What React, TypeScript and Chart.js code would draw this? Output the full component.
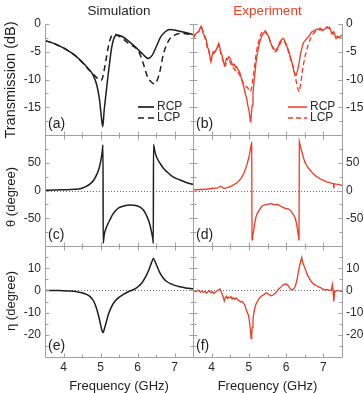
import { useEffect, useRef } from "react";
import { Chart, registerables } from "chart.js";

Chart.register(...registerables);

// ---------- data ----------
const freqTicks = [4, 5, 6, 7];
const transTicks = [0, -5, -10, -15];
const thetaTicks = [50, 0, -50];
const etaTicks = [10, 0, -10, -20];

// Simulated transmission (dB)
const simRcpFreq = [3.5, 3.7, 3.9, 4.1, 4.3, 4.5, 4.65, 4.8, 4.9, 4.97, 5.02, 5.06, 5.1, 5.15, 5.2, 5.25, 5.3, 5.36, 5.45, 5.6, 5.8, 6.0, 6.15, 6.29, 6.4, 6.5, 6.62, 6.75, 6.88, 7.0, 7.2, 7.4, 7.5];
const simRcpDb = [-3.0, -3.4, -4.0, -4.7, -5.6, -6.8, -7.9, -9.2, -11.0, -13.5, -16.5, -18.5, -15.5, -12.5, -9.5, -6.8, -4.3, -2.6, -2.0, -2.3, -3.3, -4.5, -5.5, -6.2, -5.6, -4.2, -2.4, -1.4, -1.0, -1.1, -1.4, -1.7, -1.9];
const simLcpFreq = [3.5, 3.7, 3.9, 4.1, 4.3, 4.5, 4.65, 4.8, 4.9, 4.97, 5.03, 5.08, 5.14, 5.2, 5.26, 5.32, 5.4, 5.5, 5.65, 5.8, 6.02, 6.15, 6.27, 6.38, 6.46, 6.54, 6.61, 6.68, 6.76, 6.88, 7.0, 7.15, 7.35, 7.5];
const simLcpDb = [-3.0, -3.4, -4.0, -4.7, -5.6, -6.9, -8.0, -9.0, -9.7, -10.1, -10.1, -9.0, -6.8, -4.5, -2.8, -2.0, -1.9, -2.2, -2.9, -3.7, -4.8, -7.0, -9.5, -10.5, -10.8, -10.0, -8.4, -6.0, -4.2, -2.6, -2.0, -1.7, -1.8, -2.1];

// Simulated polarization rotation θ (degree)
const simThetaFreq = [3.5, 3.8, 4.1, 4.3, 4.45, 4.6, 4.72, 4.82, 4.9, 4.97, 5.02, 5.05, 5.068, 5.072, 5.1, 5.15, 5.2, 5.26, 5.33, 5.4, 5.5, 5.62, 5.8, 5.95, 6.07, 6.17, 6.25, 6.32, 6.38, 6.42, 6.428, 6.432, 6.47, 6.53, 6.61, 6.7, 6.79, 6.95, 7.15, 7.3, 7.5];
const simTheta = [0.5, 1, 1.5, 2.2, 3, 7, 12, 19, 29, 42, 58, 72, 82, -95, -80, -68, -60, -52, -43, -37, -31, -28, -26, -27, -30, -36, -46, -58, -75, -90, -95, 83, 70, 58, 49, 40, 34, 25, 19, 15, 11];

// Simulated ellipticity η (degree)
const simEtaFreq = [3.5, 3.9, 4.2, 4.45, 4.6, 4.72, 4.82, 4.9, 4.97, 5.03, 5.07, 5.11, 5.16, 5.21, 5.28, 5.35, 5.45, 5.62, 5.75, 5.89, 6.0, 6.1, 6.2, 6.3, 6.38, 6.43, 6.48, 6.55, 6.61, 6.7, 6.79, 6.95, 7.15, 7.3, 7.5];
const simEta = [0, -0.1, -0.3, -0.9, -1.6, -2.8, -5, -8.5, -13, -17.5, -19, -17, -14, -11, -8, -5.8, -3.8, -1.8, -0.6, 0.3, 1.5, 3, 5.5, 9, 12.5, 14.4, 12.8, 10, 7.8, 5.5, 4, 2.6, 1.6, 1.1, 0.7];

// Measured transmission (dB)
const expRcpFreq = [3.5, 3.54, 3.58, 3.62, 3.66, 3.7, 3.72, 3.75, 3.78, 3.82, 3.86, 3.89, 3.92, 3.95, 3.98, 4.01, 4.04, 4.07, 4.1, 4.13, 4.16, 4.19, 4.22, 4.25, 4.28, 4.31, 4.34, 4.37, 4.4, 4.43, 4.46, 4.49, 4.52, 4.55, 4.58, 4.61, 4.64, 4.67, 4.7, 4.73, 4.76, 4.79, 4.82, 4.85, 4.88, 4.91, 4.94, 4.97, 5.0, 5.02, 5.04, 5.055, 5.07, 5.09, 5.11, 5.13, 5.16, 5.19, 5.22, 5.25, 5.28, 5.31, 5.34, 5.37, 5.4, 5.43, 5.46, 5.49, 5.52, 5.55, 5.58, 5.61, 5.64, 5.67, 5.7, 5.73, 5.76, 5.79, 5.82, 5.85, 5.88, 5.91, 5.94, 5.97, 6.0, 6.03, 6.06, 6.09, 6.12, 6.15, 6.18, 6.21, 6.24, 6.27, 6.3, 6.33, 6.36, 6.39, 6.42, 6.45, 6.48, 6.51, 6.54, 6.57, 6.6, 6.63, 6.66, 6.69, 6.72, 6.75, 6.78, 6.81, 6.84, 6.87, 6.9, 6.93, 6.96, 6.99, 7.02, 7.05, 7.08, 7.1, 7.13, 7.16, 7.19, 7.22, 7.25, 7.28, 7.31, 7.34, 7.37, 7.4, 7.43, 7.46, 7.5];
const expRcpDb = [-2.6, -2.0, -1.7, -1.5, -1.3, -0.6, -0.4, -1.0, -1.8, -2.2, -3.0, -4.2, -4.6, -5.7, -6.8, -5.8, -5.0, -5.2, -4.8, -4.6, -4.0, -3.5, -4.2, -5.3, -5.6, -6.6, -7.4, -6.9, -6.2, -6.4, -5.9, -6.1, -6.6, -7.2, -7.5, -7.3, -7.8, -7.7, -8.1, -8.4, -8.8, -9.6, -10.3, -11.0, -11.8, -12.7, -13.4, -14.6, -15.5, -16.4, -17.6, -17.2, -16.0, -14.6, -12.5, -11.0, -9.0, -7.0, -5.6, -4.6, -3.5, -2.9, -2.3, -1.9, -1.6, -1.4, -1.6, -1.9, -2.1, -2.6, -3.3, -3.8, -4.1, -4.5, -4.7, -4.6, -4.3, -4.1, -3.4, -3.1, -2.8, -2.6, -2.7, -3.2, -3.6, -4.2, -4.7, -5.4, -6.0, -6.8, -7.6, -8.6, -9.0, -9.2, -8.5, -7.7, -6.5, -5.3, -4.4, -3.7, -3.2, -3.0, -2.7, -2.5, -2.3, -2.0, -1.7, -1.4, -1.3, -1.2, -1.1, -1.0, -0.9, -1.0, -0.8, -0.8, -1.0, -1.1, -1.0, -0.8, -0.6, -0.5, -0.7, -0.6, -1.0, -1.7, -1.5, -1.4, -2.0, -2.6, -2.2, -2.3, -2.5, -2.2, -2.0];
const expLcpFreq = [3.5, 3.55, 3.6, 3.65, 3.7, 3.73, 3.77, 3.81, 3.85, 3.89, 3.93, 3.97, 4.01, 4.05, 4.09, 4.13, 4.17, 4.2, 4.24, 4.28, 4.32, 4.36, 4.4, 4.44, 4.48, 4.52, 4.56, 4.6, 4.64, 4.68, 4.72, 4.76, 4.8, 4.84, 4.88, 4.92, 4.96, 5.0, 5.04, 5.07, 5.1, 5.13, 5.16, 5.19, 5.22, 5.26, 5.3, 5.34, 5.38, 5.42, 5.46, 5.5, 5.54, 5.58, 5.62, 5.66, 5.7, 5.74, 5.78, 5.82, 5.86, 5.9, 5.94, 5.98, 6.02, 6.06, 6.1, 6.14, 6.18, 6.22, 6.26, 6.29, 6.32, 6.35, 6.38, 6.41, 6.44, 6.48, 6.52, 6.56, 6.6, 6.64, 6.68, 6.73, 6.78, 6.83, 6.88, 6.93, 6.98, 7.03, 7.08, 7.12, 7.16, 7.2, 7.24, 7.28, 7.32, 7.36, 7.4, 7.45, 7.5];
const expLcpDb = [-2.7, -2.1, -1.6, -1.4, -0.7, -0.5, -1.4, -2.3, -3.1, -4.4, -5.0, -6.5, -6.0, -5.2, -5.0, -4.8, -4.1, -3.8, -5.0, -6.0, -7.0, -7.6, -7.0, -6.8, -6.7, -7.2, -7.9, -8.0, -8.4, -8.3, -8.8, -9.3, -9.9, -10.5, -10.9, -11.3, -11.4, -11.9, -12.2, -11.6, -10.3, -8.8, -7.2, -5.6, -4.4, -3.2, -2.2, -1.6, -1.3, -1.1, -1.4, -1.9, -2.5, -3.4, -4.0, -4.7, -5.0, -4.9, -4.5, -3.8, -3.3, -3.0, -3.0, -3.5, -4.1, -4.9, -5.8, -6.9, -7.4, -8.6, -10.0, -10.9, -11.8, -12.2, -11.2, -9.8, -8.3, -6.8, -5.5, -4.5, -3.6, -2.9, -2.2, -1.7, -1.4, -1.2, -1.1, -1.0, -1.2, -1.0, -0.7, -0.6, -0.8, -1.3, -1.8, -1.7, -2.4, -2.5, -2.4, -2.3, -2.1];

// Measured polarization rotation θ (degree)
const expThetaFreq = [3.5, 3.54, 3.58, 3.62, 3.66, 3.7, 3.74, 3.78, 3.82, 3.86, 3.9, 3.94, 3.98, 4.02, 4.06, 4.1, 4.14, 4.18, 4.22, 4.25, 4.28, 4.31, 4.35, 4.39, 4.43, 4.47, 4.51, 4.55, 4.59, 4.63, 4.67, 4.71, 4.75, 4.79, 4.83, 4.87, 4.91, 4.95, 4.98, 5.01, 5.04, 5.06, 5.075, 5.085, 5.1, 5.13, 5.16, 5.19, 5.22, 5.25, 5.29, 5.34, 5.38, 5.43, 5.47, 5.52, 5.56, 5.61, 5.65, 5.7, 5.74, 5.79, 5.84, 5.88, 5.93, 5.97, 6.02, 6.06, 6.1, 6.15, 6.18, 6.21, 6.25, 6.28, 6.31, 6.33, 6.345, 6.355, 6.39, 6.43, 6.46, 6.5, 6.55, 6.6, 6.64, 6.69, 6.73, 6.78, 6.82, 6.86, 6.91, 6.96, 7.01, 7.05, 7.1, 7.15, 7.2, 7.24, 7.27, 7.28, 7.29, 7.34, 7.4, 7.45, 7.5];
const expTheta = [0.9, 1.5, 1.0, 1.8, 1.4, 2.2, 1.6, 2.4, 2.0, 3.0, 2.6, 3.5, 3.2, 4.2, 3.6, 4.6, 4.2, 5.4, 6.8, 7.8, 6.5, 4.4, 3.8, 4.8, 5.2, 6.6, 7.6, 8.8, 10.4, 11.8, 13.6, 15.8, 18.4, 21.8, 26.4, 32, 39, 47, 55, 63, 74, 82, 88, -89, -82, -72, -58, -48, -42, -39, -34, -29, -27, -26, -25, -24.5, -24, -23.5, -25, -26, -25, -25.5, -28, -29, -31, -32, -32.5, -33.5, -35, -39, -42, -45, -51, -60, -72, -82, -90, 88, 78, 68, 60, 52, 45, 40, 37, 33, 30, 27, 25, 23.5, 21, 19.5, 18, 16.8, 15.2, 14.5, 13.6, 13, 12.6, 3.5, 12.2, 11.6, 11, 10, 9];

// Measured ellipticity η (degree)
const expEtaFreq = [3.5, 3.54, 3.58, 3.62, 3.66, 3.7, 3.74, 3.78, 3.82, 3.86, 3.9, 3.94, 3.98, 4.02, 4.06, 4.1, 4.14, 4.18, 4.22, 4.25, 4.28, 4.31, 4.34, 4.37, 4.4, 4.43, 4.46, 4.49, 4.52, 4.55, 4.58, 4.62, 4.66, 4.7, 4.74, 4.78, 4.82, 4.86, 4.9, 4.93, 4.96, 4.99, 5.02, 5.04, 5.06, 5.075, 5.09, 5.11, 5.14, 5.17, 5.2, 5.24, 5.28, 5.32, 5.36, 5.4, 5.44, 5.48, 5.52, 5.56, 5.6, 5.64, 5.68, 5.72, 5.76, 5.8, 5.84, 5.88, 5.92, 5.96, 6.0, 6.04, 6.08, 6.12, 6.15, 6.19, 6.23, 6.27, 6.3, 6.33, 6.36, 6.39, 6.42, 6.44, 6.47, 6.5, 6.53, 6.57, 6.62, 6.67, 6.71, 6.76, 6.82, 6.87, 6.91, 6.96, 7.01, 7.05, 7.1, 7.15, 7.19, 7.22, 7.24, 7.26, 7.28, 7.3, 7.34, 7.4, 7.45, 7.5];
const expEta = [0.2, -0.3, -0.6, 0.1, -0.2, -0.8, -0.3, -0.9, -0.4, -1.2, -0.6, -0.2, -1.0, -0.6, -1.4, -0.8, -0.3, 0.2, 0.7, -0.2, -1.6, -3.0, -4.8, -3.2, -2.6, -3.6, -3.0, -3.4, -2.8, -3.9, -3.3, -4.0, -3.4, -4.2, -4.6, -5.2, -5.0, -5.8, -7.0, -8.8, -10.0, -11.3, -14.5, -17.5, -21.7, -19.5, -16.8, -13.0, -9.5, -7.2, -5.8, -4.6, -3.5, -2.9, -2.3, -2.0, -1.4, -1.1, -1.8, -2.0, -2.4, -2.2, -1.6, -1.2, -0.2, 0.6, 1.2, 1.8, 2.5, 2.8, 2.9, 2.4, 1.5, 0.6, 0.3, 0.5, 1.2, 3.3, 5.5, 8.5, 11.0, 13.0, 14.8, 12.8, 11.6, 10.2, 8.9, 7.0, 5.5, 4.0, 3.3, 2.6, 2.1, 1.6, 1.4, 0.8, 0.5, 0.2, 0.4, 0.0, 0.1, 0.5, 2.6, 0.0, -5.0, -1.0, -0.2, 0.0, -0.3, -0.5];

// ---------- styling / layout ----------
const W = 363;
const H = 393;
const RED = "#ef3b24";
const INK = "#1e1e1e";
const TICK_INK = "#2a2a2a";
const AXIS = "#a0a0a0";
const FONT = "'Liberation Sans', Arial, sans-serif";
const COL_X: [number, number][] = [[45, 193], [193, 342]];
const ROW_Y: [number, number][] = [[24, 135], [135, 246], [246, 357]];
const COL_TITLES = ["Simulation", "Experiment"];
const ROW_TITLES = ["Transmission (dB)", "\u03b8 (degree)", "\u03b7 (degree)"];
const ROW_TITLE_Y = [80, 197, 301];
const ROW_TITLE_SIZE = [14.5, 13, 13];

type Series = { x: number[]; y: number[]; color: string; dash?: number[]; width: number; smooth: boolean; label: string };
type PanelDef = {
  col: 0 | 1;
  row: 0 | 1 | 2;
  min: number;
  max: number;
  ticks: number[];
  minor: number;
  letter: string;
  zero: boolean;
  legend: boolean;
  series: Series[];
};

const panels: PanelDef[] = [
  {
    col: 0, row: 0, min: -20, max: 0, ticks: transTicks, minor: 2.5, letter: "(a)", zero: false, legend: true,
    series: [
      { x: simRcpFreq, y: simRcpDb, color: INK, width: 1.5, smooth: true, label: "RCP" },
      { x: simLcpFreq, y: simLcpDb, color: INK, width: 1.5, dash: [6, 4], smooth: true, label: "LCP" },
    ],
  },
  {
    col: 1, row: 0, min: -20, max: 0, ticks: transTicks, minor: 2.5, letter: "(b)", zero: false, legend: true,
    series: [
      { x: expRcpFreq, y: expRcpDb, color: RED, width: 1.3, smooth: false, label: "RCP" },
      { x: expLcpFreq, y: expLcpDb, color: RED, width: 1.3, dash: [5, 3], smooth: false, label: "LCP" },
    ],
  },
  {
    col: 0, row: 1, min: -100, max: 100, ticks: thetaTicks, minor: 25, letter: "(c)", zero: true, legend: false,
    series: [{ x: simThetaFreq, y: simTheta, color: INK, width: 1.5, smooth: true, label: "\u03b8" }],
  },
  {
    col: 1, row: 1, min: -100, max: 100, ticks: thetaTicks, minor: 25, letter: "(d)", zero: true, legend: false,
    series: [{ x: expThetaFreq, y: expTheta, color: RED, width: 1.3, smooth: false, label: "\u03b8" }],
  },
  {
    col: 0, row: 2, min: -30, max: 20, ticks: etaTicks, minor: 5, letter: "(e)", zero: true, legend: false,
    series: [{ x: simEtaFreq, y: simEta, color: INK, width: 1.5, smooth: true, label: "\u03b7" }],
  },
  {
    col: 1, row: 2, min: -30, max: 20, ticks: etaTicks, minor: 5, letter: "(f)", zero: true, legend: false,
    series: [{ x: expEtaFreq, y: expEta, color: RED, width: 1.3, smooth: false, label: "\u03b7" }],
  },
];

const X_MIN = 3.5;
const X_MAX = 7.5;

function px(v: number) {
  return Math.round(v) + 0.5;
}

function decorPlugin(p: PanelDef) {
  return {
    id: "panelDecor",
    beforeDatasetsDraw(chart: any) {
      if (!p.zero) return;
      const { ctx, chartArea: a, scales } = chart;
      const y = px(scales.y.getPixelForValue(0));
      ctx.save();
      ctx.strokeStyle = "#6a6a6a";
      ctx.lineWidth = 1;
      ctx.setLineDash([1, 2]);
      ctx.beginPath();
      ctx.moveTo(a.left, y);
      ctx.lineTo(a.right, y);
      ctx.stroke();
      ctx.restore();
    },
    afterDatasetsDraw(chart: any) {
      const { ctx, chartArea: a, scales } = chart;
      const xs = scales.x;
      const ys = scales.y;
      const L = px(a.left);
      const R = px(a.right);
      const T = px(a.top);
      const B = px(a.bottom);
      ctx.save();
      ctx.strokeStyle = AXIS;
      ctx.lineWidth = 1;
      ctx.setLineDash([]);
      ctx.beginPath();
      ctx.moveTo(L, T);
      ctx.lineTo(L, B);
      ctx.moveTo(R, T);
      ctx.lineTo(R, B);
      ctx.moveTo(L, B);
      ctx.lineTo(R, B);
      if (p.row > 0) {
        ctx.moveTo(L, T);
        ctx.lineTo(R, T);
      }
      // vertical-axis ticks, pointing inward on both sides
      for (let v = p.min + p.minor; v < p.max + 1e-9; v += p.minor) {
        const isMajor = p.ticks.some((t) => Math.abs(t - v) < 1e-9);
        const len = isMajor ? 4 : 3;
        const y = px(ys.getPixelForValue(v));
        ctx.moveTo(L, y);
        ctx.lineTo(L + len, y);
        ctx.moveTo(R, y);
        ctx.lineTo(R - len, y);
      }
      // frequency ticks every 0.5 GHz along bottom (and top when shared)
      for (let f = X_MIN + 0.5; f < X_MAX - 1e-9; f += 0.5) {
        const x = px(xs.getPixelForValue(f));
        const len = Math.abs(f - Math.round(f)) < 1e-9 ? 4 : 3;
        ctx.moveTo(x, B);
        ctx.lineTo(x, B - len);
        if (p.row > 0) {
          ctx.moveTo(x, T);
          ctx.lineTo(x, T + len);
        }
      }
      ctx.stroke();

      // value tick labels
      ctx.fillStyle = TICK_INK;
      ctx.font = `12px ${FONT}`;
      ctx.textBaseline = "middle";
      if (p.col === 0) {
        ctx.textAlign = "right";
        p.ticks.forEach((t) => ctx.fillText(String(t), a.left - 4, ys.getPixelForValue(t)));
      } else {
        ctx.textAlign = "left";
        p.ticks.forEach((t) => ctx.fillText(String(t), a.right + 4, ys.getPixelForValue(t)));
      }
      if (p.row === 2) {
        ctx.textAlign = "center";
        freqTicks.forEach((f) => ctx.fillText(String(f), xs.getPixelForValue(f), a.bottom + 11));
        ctx.fillStyle = INK;
        ctx.font = `13px ${FONT}`;
        ctx.fillText("Frequency (GHz)", (a.left + a.right) / 2, 386);
      }
      if (p.row === 0) {
        ctx.textAlign = "center";
        ctx.font = `13.5px ${FONT}`;
        ctx.fillStyle = p.col === 0 ? INK : RED;
        ctx.fillText(COL_TITLES[p.col], (a.left + a.right) / 2, 11.5);
      }
      if (p.col === 0) {
        ctx.save();
        ctx.translate(11, ROW_TITLE_Y[p.row]);
        ctx.rotate(-Math.PI / 2);
        ctx.textAlign = "center";
        ctx.fillStyle = INK;
        ctx.font = `${ROW_TITLE_SIZE[p.row]}px ${FONT}`;
        ctx.fillText(ROW_TITLES[p.row], 0, 0);
        ctx.restore();
      }

      // panel letter
      ctx.textAlign = "left";
      ctx.fillStyle = INK;
      ctx.font = `14px ${FONT}`;
      ctx.fillText(p.letter, a.left + 3, a.bottom - 11);

      // legend
      if (p.legend) {
        const x0 = p.col === 0 ? 138 : 288;
        const x1 = p.col === 0 ? 154 : 307;
        p.series.forEach((s, i) => {
          const y = 107 + i * 11;
          ctx.strokeStyle = s.color;
          ctx.lineWidth = s.width + 0.2;
          ctx.setLineDash(s.dash || []);
          ctx.beginPath();
          ctx.moveTo(x0, y);
          ctx.lineTo(x1, y);
          ctx.stroke();
          ctx.setLineDash([]);
          ctx.fillStyle = TICK_INK;
          ctx.font = `12px ${FONT}`;
          ctx.textAlign = "left";
          ctx.fillText(s.label, x1 + 3, y);
        });
      }
      ctx.restore();
    },
  };
}

function Panel({ def }: { def: PanelDef }) {
  const ref = useRef<HTMLCanvasElement | null>(null);
  useEffect(() => {
    const canvas = ref.current;
    if (!canvas) return;
    const [x0, x1] = COL_X[def.col];
    const [y0, y1] = ROW_Y[def.row];
    const chart = new Chart(canvas, {
      type: "line",
      data: {
        datasets: def.series.map((s) => ({
          label: s.label,
          data: s.x.map((x, i) => ({ x, y: s.y[i] })),
          borderColor: s.color,
          borderWidth: s.width,
          borderDash: s.dash || [],
          pointRadius: 0,
          fill: false,
          tension: s.smooth ? 0.4 : 0,
          cubicInterpolationMode: s.smooth ? "monotone" : "default",
        })),
      },
      options: {
        animation: false,
        responsive: false,
        devicePixelRatio: 1,
        events: [],
        layout: { padding: { left: x0, right: W - x1, top: y0, bottom: H - y1 } },
        scales: {
          x: { type: "linear", min: X_MIN, max: X_MAX, display: false },
          y: { type: "linear", min: def.min, max: def.max, display: false },
        },
        plugins: { legend: { display: false }, tooltip: { enabled: false }, title: { display: false } },
      },
      plugins: [decorPlugin(def)],
    } as any);
    return () => chart.destroy();
  }, [def]);
  return <canvas ref={ref} width={W} height={H} style={{ position: "absolute", left: 0, top: 0 }} />;
}

export default function App() {
  return (
    <div style={{ position: "fixed", left: 0, top: 0, width: W, height: H, background: "#fff", overflow: "hidden" }}>
      {panels.map((p) => (
        <Panel key={p.letter} def={p} />
      ))}
    </div>
  );
}
